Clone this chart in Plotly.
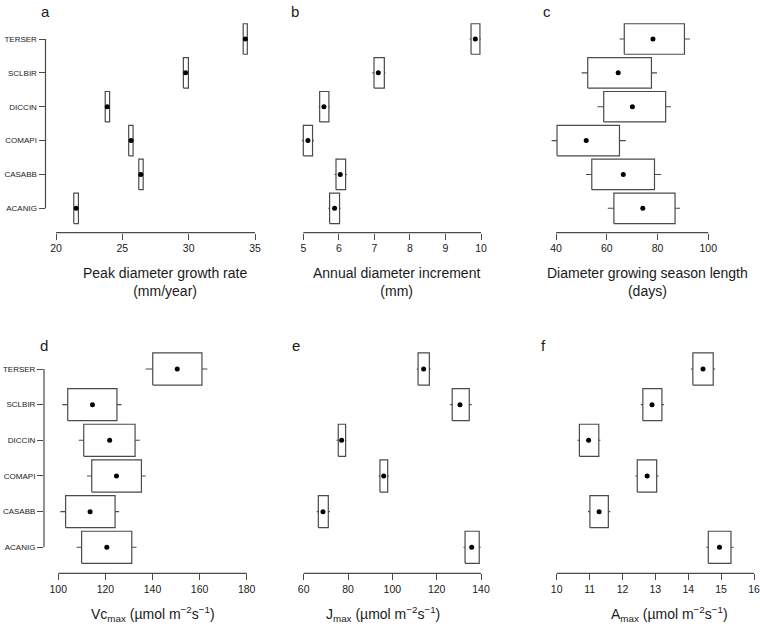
import plotly.graph_objects as go

species = ["ACANIG", "CASABB", "COMAPI", "DICCIN", "SCLBIR", "TERSER"]

# Panel a: Peak diameter growth rate (mm/year)
a_mean = [21.52, 26.39, 25.66, 23.86, 29.77, 34.27]
a_lo = [21.34, 26.24, 25.48, 23.71, 29.60, 34.11]
a_hi = [21.69, 26.57, 25.81, 24.04, 29.98, 34.42]
a_wlo = [21.34, 26.24, 25.48, 23.71, 29.60, 34.11]
a_whi = [21.69, 26.57, 25.81, 24.04, 29.98, 34.42]

# Panel b: Annual diameter increment (mm)
b_mean = [5.88, 6.04, 5.13, 5.58, 7.11, 9.84]
b_lo = [5.74, 5.92, 5.00, 5.46, 6.99, 9.72]
b_hi = [6.02, 6.19, 5.26, 5.72, 7.28, 9.97]
b_wlo = [5.70, 5.88, 4.96, 5.43, 6.94, 9.68]
b_whi = [6.05, 6.23, 5.30, 5.75, 7.31, 10.0]

# Panel c: Diameter growing season length (days)
c_mean = [74.2, 66.5, 51.9, 70.1, 64.5, 78.2]
c_lo = [62.8, 54.1, 40.4, 58.8, 52.5, 66.9]
c_hi = [86.9, 78.8, 65.0, 83.2, 77.6, 90.6]
c_wlo = [60.4, 51.8, 38.3, 56.3, 50.1, 65.0]
c_whi = [88.9, 81.4, 67.5, 85.3, 79.8, 92.8]

# Panel d: Vcmax
d_mean = [120.6, 113.5, 124.7, 121.8, 114.5, 150.5]
d_lo = [109.9, 103.1, 114.2, 110.8, 104.0, 140.1]
d_hi = [131.2, 124.1, 135.3, 132.6, 124.9, 161.0]
d_wlo = [107.8, 100.9, 112.2, 108.7, 101.7, 137.1]
d_whi = [133.2, 125.8, 137.1, 134.6, 126.8, 163.3]

# Panel e: Jmax
e_mean = [135.8, 68.7, 96.1, 77.1, 130.5, 114.1]
e_lo = [132.8, 66.6, 94.4, 75.6, 127.0, 111.6]
e_hi = [139.2, 71.1, 97.9, 78.9, 134.7, 116.7]
e_wlo = [132.1, 65.9, 93.8, 74.8, 126.1, 111.0]
e_whi = [139.9, 71.9, 98.5, 79.3, 135.8, 117.3]

# Panel f: Amax
f_mean = [14.95, 11.29, 12.75, 10.97, 12.90, 14.45]
f_lo = [14.61, 11.01, 12.45, 10.69, 12.62, 14.14]
f_hi = [15.30, 11.57, 13.04, 11.28, 13.20, 14.76]
f_wlo = [14.55, 10.95, 12.39, 10.63, 12.56, 14.08]
f_whi = [15.38, 11.63, 13.10, 11.33, 13.26, 14.82]

a_ticks = [20, 25, 30, 35]
b_ticks = [5, 6, 7, 8, 9, 10]
c_ticks = [40, 60, 80, 100]
d_ticks = [100, 120, 140, 160, 180]
e_ticks = [60, 80, 100, 120, 140]
f_ticks = [10, 11, 12, 13, 14, 15, 16]

titles = [
    "Peak diameter growth rate<br>(mm/year)",
    "Annual diameter increment<br>(mm)",
    "Diameter growing season length<br>(days)",
    "Vc<sub>max</sub> (\u00b5mol m<sup>\u22122</sup>s<sup>\u22121</sup>)",
    "J<sub>max</sub> (\u00b5mol m<sup>\u22122</sup>s<sup>\u22121</sup>)",
    "A<sub>max</sub> (\u00b5mol m<sup>\u22122</sup>s<sup>\u22121</sup>)",
]
letters = ["a", "b", "c", "d", "e", "f"]

W, H = 760, 627
FONT = "Liberation Sans, Arial, Helvetica, sans-serif"
LINE = "#4a4a4a"
TXT = "#1a1a1a"

panels = [
    (a_mean, a_lo, a_hi, a_wlo, a_whi, a_ticks),
    (b_mean, b_lo, b_hi, b_wlo, b_whi, b_ticks),
    (c_mean, c_lo, c_hi, c_wlo, c_whi, c_ticks),
    (d_mean, d_lo, d_hi, d_wlo, d_whi, d_ticks),
    (e_mean, e_lo, e_hi, e_wlo, e_whi, e_ticks),
    (f_mean, f_lo, f_hi, f_wlo, f_whi, f_ticks),
]

# layout geometry in pixels: (first tick px, last tick px, domain left, domain right)
xgeom = [
    (56.0, 255.0, 45.5, 268.0),
    (303.3, 481.0, 290.0, 495.0),
    (556.0, 708.3, 540.0, 722.0),
    (58.3, 246.7, 44.0, 262.0),
    (303.7, 481.0, 290.0, 495.0),
    (556.7, 754.0, 540.0, 759.0),
]
# rows: (axis line px, ACANIG px, TERSER px, top px)
ygeom = [
    (232.7, 208.3, 39.0, 15.0),
    (573.3, 547.3, 369.0, 345.0),
]
# (x center px, y px, y anchor)
title_pos = [(164.7, 282.0, "middle"), (396.8, 282.0, "middle"), (647.8, 282.0, "middle"),
             (153.3, 626.0, "bottom"), (383.3, 626.0, "bottom"), (669.7, 626.0, "bottom")]
letter_pos = [(45, 1), (295, 1), (546.7, 1), (44.3, 335), (296, 335), (543.3, 335)]

fig = go.Figure()
layout = dict(width=W, height=H, margin=dict(l=0, r=0, t=0, b=0),
              paper_bgcolor="white", plot_bgcolor="white", showlegend=False,
              hovermode=False,
              font=dict(family=FONT, color=TXT))
shapes = []
annotations = []
HALF = 0.45
ypos = list(range(1, len(species) + 1))

for i, (mean, lo, hi, wlo, whi, ticks) in enumerate(panels):
    row = i // 3
    n = i + 1
    xs = "x" if n == 1 else f"x{n}"
    ys = "y" if n == 1 else f"y{n}"
    t0px, t1px, dl, dr = xgeom[i]
    scale = (ticks[-1] - ticks[0]) / (t1px - t0px)
    xr = [ticks[0] - (t0px - dl) * scale, ticks[-1] + (dr - t1px) * scale]
    axpx, y1px, y6px, toppx = ygeom[row]
    yscale = 5.0 / (y1px - y6px)
    yr = [1 - (axpx - y1px) * yscale, 6 + (y6px - toppx) * yscale]

    # boxes
    bx, by = [], []
    for k in range(len(species)):
        yy = ypos[k]
        bx += [lo[k], hi[k], hi[k], lo[k], lo[k], None]
        by += [yy - HALF, yy - HALF, yy + HALF, yy + HALF, yy - HALF, None]
    fig.add_trace(go.Scatter(x=bx, y=by, mode="lines", line=dict(color=LINE, width=1.2),
                             xaxis=xs, yaxis=ys, hoverinfo="skip"))
    # whiskers
    wx, wy = [], []
    for k in range(len(species)):
        yy = ypos[k]
        if wlo[k] < lo[k]:
            wx += [wlo[k], lo[k], None]
            wy += [yy, yy, None]
        if whi[k] > hi[k]:
            wx += [hi[k], whi[k], None]
            wy += [yy, yy, None]
    if wx:
        fig.add_trace(go.Scatter(x=wx, y=wy, mode="lines", line=dict(color=LINE, width=1.1),
                                 xaxis=xs, yaxis=ys, hoverinfo="skip"))
    # means
    fig.add_trace(go.Scatter(x=mean, y=ypos, mode="markers",
                             marker=dict(color="black", size=5),
                             xaxis=xs, yaxis=ys, cliponaxis=False, hoverinfo="skip"))

    xkey = "xaxis" if n == 1 else f"xaxis{n}"
    ykey = "yaxis" if n == 1 else f"yaxis{n}"
    layout[xkey] = dict(domain=[dl / W, dr / W], range=xr, anchor=ys, fixedrange=True,
                        tickvals=ticks, ticktext=[str(t) for t in ticks],
                        ticks="outside", ticklen=6, tickwidth=1, tickcolor=LINE,
                        showgrid=False, zeroline=False, showline=False,
                        tickfont=dict(size=10.5, color=TXT, family=FONT))
    ydict = dict(domain=[1 - axpx / H, 1 - toppx / H], range=yr, anchor=xs, fixedrange=True,
                 showgrid=False, zeroline=False, showline=False)
    if i % 3 == 0:
        ydict.update(tickvals=ypos, ticktext=species, ticks="outside", ticklen=6,
                     tickwidth=1, tickcolor=LINE,
                     tickfont=dict(size=8, color=TXT, family=FONT))
        shapes.append(dict(type="line", xref=f"{xs} domain", yref=ys, x0=0, x1=0,
                           y0=ypos[0], y1=ypos[-1], line=dict(color=LINE, width=1.2)))
    else:
        ydict.update(showticklabels=False, ticks="")
    layout[ykey] = ydict
    shapes.append(dict(type="line", xref=xs, yref=f"{ys} domain", x0=ticks[0], x1=ticks[-1],
                       y0=0, y1=0, line=dict(color=LINE, width=1.2)))

    tx, ty, tanc = title_pos[i]
    annotations.append(dict(text=titles[i], x=tx / W, y=1 - ty / H, xref="paper", yref="paper",
                            showarrow=False, xanchor="center", yanchor=tanc,
                            font=dict(size=14, color=TXT, family=FONT)))
    lx, ly = letter_pos[i]
    annotations.append(dict(text=letters[i], x=lx / W, y=1 - ly / H, xref="paper", yref="paper",
                            showarrow=False, xanchor="center", yanchor="top",
                            font=dict(size=15, color=TXT, family=FONT)))

layout["shapes"] = shapes
layout["annotations"] = annotations
fig.update_layout(**layout)
fig.write_html("out.html", config={"displayModeBar": False})
